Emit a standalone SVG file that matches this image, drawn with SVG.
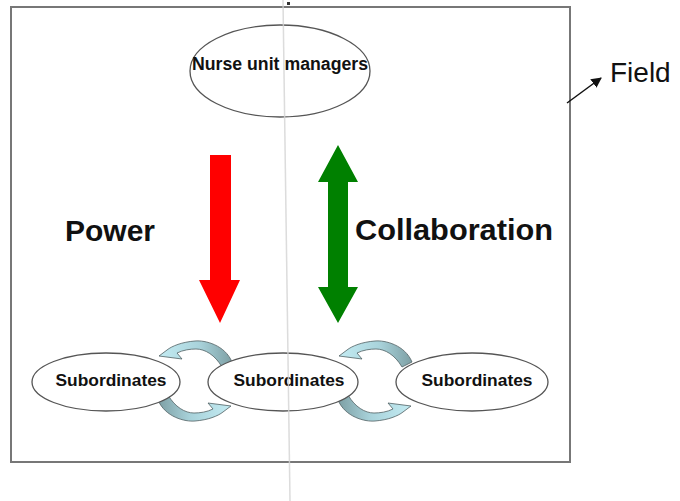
<svg xmlns="http://www.w3.org/2000/svg" width="680" height="501" viewBox="0 0 680 501">
<style>
.lbl{font-family:"Liberation Sans",Arial,sans-serif;font-weight:bold;fill:#111}
.ell{fill:#fff;stroke:#555;stroke-width:1.3}
.cyc{fill:url(#cg);stroke:#4f5f62;stroke-width:0.8}
</style>
<defs>
<linearGradient id="cg" x1="0" y1="0" x2="1" y2="0">
<stop offset="0" stop-color="#c3ebf2"/>
<stop offset="0.55" stop-color="#a9d3db"/>
<stop offset="1" stop-color="#7d9fa4"/>
</linearGradient>
<path id="arc" class="cyc" d="M37,-19 C30,-36 10,-41 0,-40 C-13,-39 -23,-35 -28,-31 L-36,-25 L-13,-22 L-18,-28 C-12,-31 -5,-32 1,-32 C10,-32 20,-26 27,-14 Z"/>
<marker id="ah" viewBox="0 0 10 10" refX="9" refY="5" markerWidth="7" markerHeight="7" orient="auto">
<path d="M0,0 L10,5 L0,10 Z" fill="#111"/>
</marker>
</defs>
<rect width="680" height="501" fill="#fff"/>
<rect id="field-frame" x="11" y="7" width="559" height="455" fill="none" stroke="#777" stroke-width="2"/>
<g id="connectors">
<polygon id="power-arrow" points="210,155 231,155 231,280 240,280 220,323 199,280 210,280" fill="#ff0000"/>
<polygon id="collab-arrow" points="338,145 358,182 348,182 348,287 358,287 338,323 318,287 328,287 328,182 318,182" fill="#008000"/>
<use href="#arc" transform="translate(195,381)"/>
<use href="#arc" transform="translate(195,381) rotate(180)"/>
<use href="#arc" transform="translate(375,381)"/>
<use href="#arc" transform="translate(375,381) rotate(180)"/>
<line x1="567" y1="103" x2="601" y2="78" stroke="#111" stroke-width="1.5" marker-end="url(#ah)"/>
</g>
<g id="nurse">
<ellipse class="ell" cx="280" cy="71" rx="90" ry="46" stroke="#444" stroke-width="1.6"/>
<text class="lbl" x="280" y="70" font-size="17.5" text-anchor="middle" textLength="176" lengthAdjust="spacingAndGlyphs">Nurse unit managers</text>
</g>
<g id="sub1">
<ellipse class="ell" cx="106" cy="382" rx="74" ry="29"/>
<text class="lbl" x="111" y="386" font-size="17" text-anchor="middle" textLength="111" lengthAdjust="spacingAndGlyphs">Subordinates</text>
</g>
<g id="sub2">
<ellipse class="ell" cx="283" cy="382" rx="75" ry="29"/>
<text class="lbl" x="289" y="386" font-size="17" text-anchor="middle" textLength="111" lengthAdjust="spacingAndGlyphs">Subordinates</text>
</g>
<g id="sub3">
<ellipse class="ell" cx="472" cy="382" rx="76" ry="29"/>
<text class="lbl" x="477" y="386" font-size="17" text-anchor="middle" textLength="111" lengthAdjust="spacingAndGlyphs">Subordinates</text>
</g>
<g id="power-label"><text class="lbl" x="65" y="241" font-size="30">Power</text></g>
<g id="collab-label"><text class="lbl" x="355" y="240" font-size="30" textLength="198" lengthAdjust="spacingAndGlyphs">Collaboration</text></g>
<g id="field-label"><text x="610" y="82" font-family="'Liberation Sans',Arial,sans-serif" font-size="28" fill="#111">Field</text></g>
<line x1="283" y1="0" x2="290" y2="501" stroke="#d4d4d4" stroke-width="1.5" opacity="0.8"/>
<rect x="287" y="2" width="3" height="3" fill="#333"/>
</svg>
